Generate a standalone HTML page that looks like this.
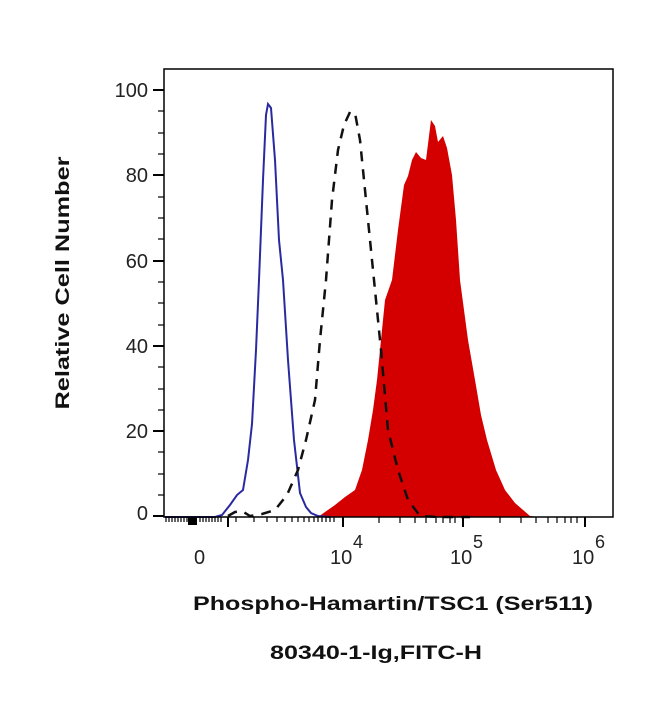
<!DOCTYPE html>
<html><head><style>
body{margin:0;background:#fff;}
svg{display:block;font-family:"Liberation Sans",Arial,sans-serif;}
</style></head><body>
<svg width="650" height="720" viewBox="0 0 650 720">
<rect width="650" height="720" fill="#fff"/>
<path d="M318,517 L325,512 L335,505 L345,497 L355,490 L362,470 L368,440 L373,410 L377,380 L381,340 L385,300 L392,280 L398,230 L404,185 L408,176 L412,160 L416,152 L421,158 L426,160 L431,120 L435,126 L438,142 L443,136 L447,148 L452,175 L456,220 L460,280 L468,340 L475,380 L481,415 L487,440 L496,470 L505,490 L515,503 L530,516 L540,517 Z" fill="#d40000"/>
<path d="M165,517 L215,517 L222,515 L230,505 L237,495 L243,490 L248,460 L252,424 L256,350 L259,280 L263,180 L266,115 L268,104 L271,108 L275,160 L279,240 L283,280 L288,360 L294,440 L300,493 L306,507 L311,513 L318,516 L330,517" fill="none" stroke="#2a2aa0" stroke-width="2"/>
<path d="M228,516 L235,512 L242,511 L250,516 L262,514 L275,510 L287,495 L298,470 L306,440 L315,400 L320,340 L326,280 L332,200 L338,150 L344,125 L350,112 L355,113 L360,140 L366,200 L374,280 L381,350 L388,430 L398,470 L408,500 L420,516 L440,517 L470,517" fill="none" stroke="#111" stroke-width="2.5" stroke-dasharray="10,8"/>
<rect x="164" y="69" width="449" height="448" fill="none" stroke="#000" stroke-width="1.5"/>
<g stroke="#000" stroke-width="2">
<line x1="153" y1="90" x2="164" y2="90"/><line x1="153" y1="175" x2="164" y2="175"/>
<line x1="153" y1="261" x2="164" y2="261"/><line x1="153" y1="346" x2="164" y2="346"/>
<line x1="153" y1="431" x2="164" y2="431"/><line x1="153" y1="516" x2="164" y2="516"/>
</g>
<g stroke="#000" stroke-width="1.2">
<line x1="158" y1="111" x2="164" y2="111"/><line x1="158" y1="133" x2="164" y2="133"/><line x1="158" y1="154" x2="164" y2="154"/>
<line x1="158" y1="197" x2="164" y2="197"/><line x1="158" y1="218" x2="164" y2="218"/><line x1="158" y1="239" x2="164" y2="239"/>
<line x1="158" y1="282" x2="164" y2="282"/><line x1="158" y1="303" x2="164" y2="303"/><line x1="158" y1="325" x2="164" y2="325"/>
<line x1="158" y1="367" x2="164" y2="367"/><line x1="158" y1="389" x2="164" y2="389"/><line x1="158" y1="410" x2="164" y2="410"/>
<line x1="158" y1="452" x2="164" y2="452"/><line x1="158" y1="474" x2="164" y2="474"/><line x1="158" y1="495" x2="164" y2="495"/>
</g>
<g font-size="20" fill="#222" text-anchor="end">
<text x="148" y="97">100</text><text x="148" y="182">80</text><text x="148" y="268">60</text>
<text x="148" y="353">40</text><text x="148" y="438">20</text><text x="148" y="520">0</text>
</g>
<g stroke="#000" stroke-width="1.2">
<path d="M166,517v5M169,517v5M172,517v5M175,517v5M178,517v5M181,517v5M184,517v5M187,517v5M200,517v5M203,517v5M206,517v5M209,517v5M212,517v5M215,517v5M218,517v5M221,517v5"/>
<path d="M236,517v5M254,517v5M267,517v5M277,517v5M285,517v5M292,517v5M298,517v5M304,517v5M309,517v5M314,517v5M318,517v5M322,517v5M326,517v5M330,517v5M334,517v5"/>
<path d="M379,517v6M400,517v6M415,517v6M426,517v6M436,517v6M443,517v6M450,517v6M455,517v6"/>
<path d="M500,517v6M521,517v6M536,517v6M548,517v6M557,517v6M565,517v6M571,517v6M577,517v6"/>
</g>
<rect x="188" y="517" width="9" height="8" fill="#000"/>
<g stroke="#000" stroke-width="2">
<line x1="228" y1="517" x2="228" y2="527"/><line x1="343" y1="517" x2="343" y2="527"/>
<line x1="463" y1="517" x2="463" y2="527"/><line x1="585" y1="517" x2="585" y2="527"/>
</g>
<g font-size="20" fill="#222">
<text x="194" y="564">0</text>
<text x="330" y="564">10</text><text x="353" y="548" font-size="18">4</text>
<text x="450" y="564">10</text><text x="473" y="548" font-size="18">5</text>
<text x="572" y="564">10</text><text x="595" y="548" font-size="18">6</text>
</g>
<text x="193" y="610" font-size="19" font-weight="bold" fill="#111" textLength="400" lengthAdjust="spacingAndGlyphs">Phospho-Hamartin/TSC1 (Ser511)</text>
<text x="270" y="659" font-size="19" font-weight="bold" fill="#111" textLength="212" lengthAdjust="spacingAndGlyphs">80340-1-Ig,FITC-H</text>
<text transform="translate(69,283) rotate(-90)" font-size="19" font-weight="bold" text-anchor="middle" fill="#111" textLength="253" lengthAdjust="spacingAndGlyphs">Relative Cell Number</text>
</svg>
</body></html>
